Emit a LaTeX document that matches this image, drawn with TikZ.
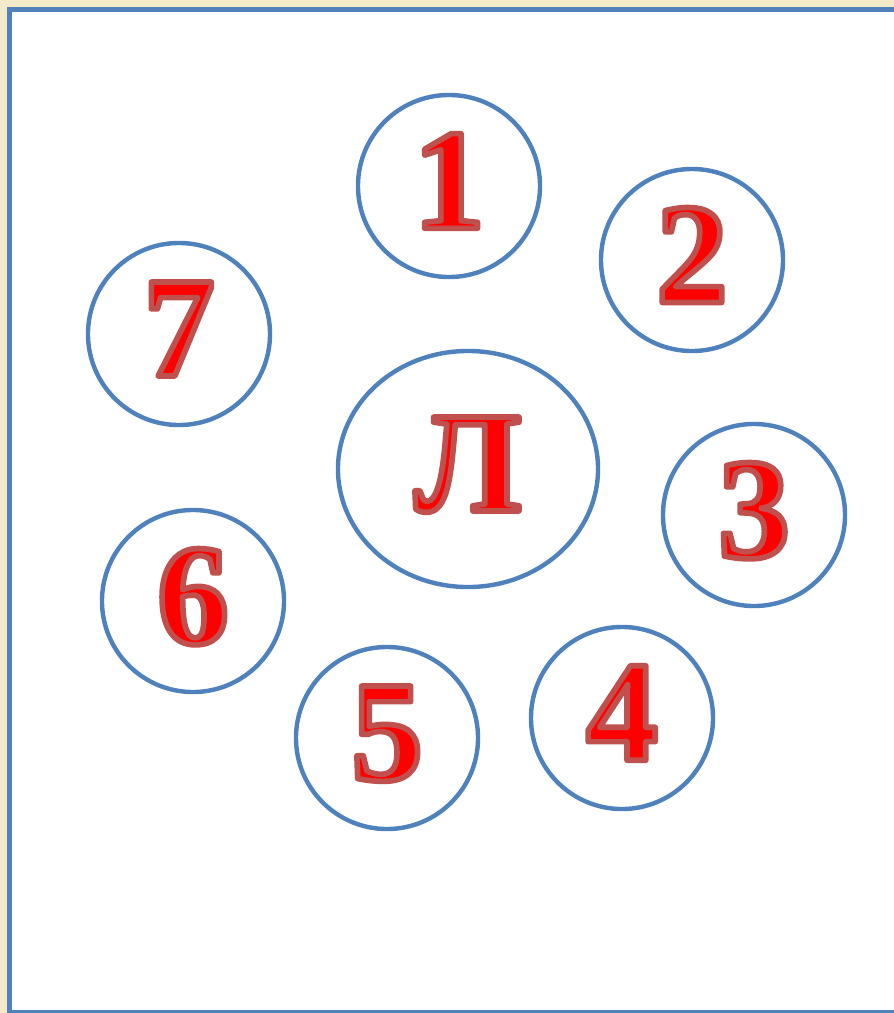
\documentclass[tikz,border=0pt]{standalone}
\usepackage{fontspec}
\setmainfont{Liberation Serif}
\usetikzlibrary{shapes.geometric,positioning}
\definecolor{frameblue}{HTML}{4F81BD}
\definecolor{letterred}{HTML}{FF0000}
\definecolor{edgered}{HTML}{C0504D}
\definecolor{paper}{HTML}{F4EAC9}
% red glyph with a darker stroked edge
\newcommand{\Sign}[1]{\special{pdf:literal direct 2 Tr 4 w 1 J 1 j 0.753 0.314 0.302 RG}#1\special{pdf:literal direct 0 Tr}}

\begin{document}
\begin{tikzpicture}[
  x=0.025cm, y=-0.025cm,
  ring/.style={circle, draw=frameblue, line width=0.11cm, fill=white, minimum size=4.55cm, inner sep=0pt,
    text=letterred, text depth=0.25cm, font=\fontsize{102}{102}\selectfont\bfseries},
  core/.style={ellipse, draw=frameblue, line width=0.11cm, fill=white, minimum width=6.5cm, minimum height=5.9cm, inner sep=0pt,
    text=letterred, text depth=0.25cm, font=\fontsize{102}{102}\selectfont\bfseries}
]
\useasboundingbox (0,0) rectangle (894,1013);
\clip (0,0) rectangle (894,1013);
\fill[paper] (0,0) rectangle (894,1013);
\draw[frameblue, line width=0.12cm, fill=white] (9.5,9.5) rectangle (920,1012);

% central letter
\node[core] (letter) at (468,469) {\Sign{Л}};

% numbered rings
\node[ring] (one) at (449,186) {\Sign{1}};
\node[ring] (two) at (692,260) {\Sign{2}};
\node[ring] (three) at (754,515) {\Sign{3}};
\node[ring] (four) at (622,718) {\Sign{4}};
\node[ring] (five) at (387,738) {\Sign{5}};
\node[ring] (six) at (193,601) {\Sign{6}};
\node[ring] (seven) at (179,334) {\Sign{7}};
\end{tikzpicture}
\end{document}
